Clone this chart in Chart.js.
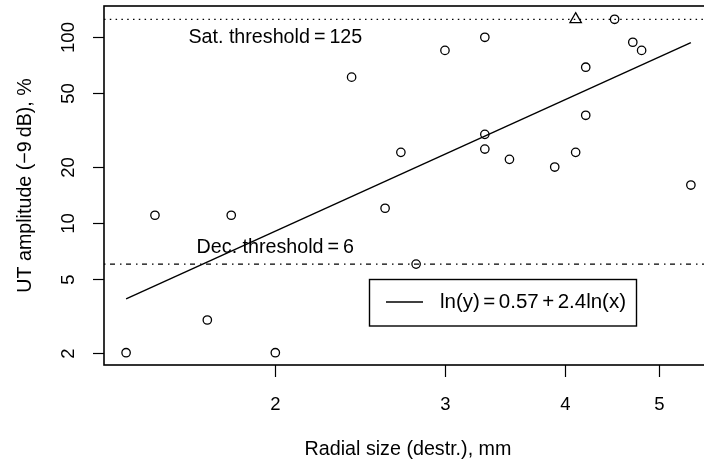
<!DOCTYPE html>
<html>
<head>
<meta charset="utf-8">
<script src="https://cdn.jsdelivr.net/npm/chart.js@4.4.1/dist/chart.umd.min.js"></script>
<style>
  html, body { margin: 0; padding: 0; background: #fff; }
  #wrap { width: 704px; height: 461px; position: relative; }
</style>
</head>
<body>
<div id="wrap"><canvas id="chart"></canvas></div>
<script>
// Data
const sizeMm = [1.4, 1.5, 1.7, 1.8, 2.0, 2.4, 2.6, 2.7, 2.8, 3.0, 3.3, 3.3, 3.3, 3.5, 3.9, 4.1, 4.2, 4.2, 4.5, 4.7, 4.8, 5.4];
const amplitudePct = [2, 11, 3, 11, 2, 61, 12, 24, 6, 85, 100, 30, 25, 22, 20, 24, 69, 38, 125, 94, 85, 16];
const satSize = [4.1];
const satAmplitude = [125];
const fitX = [1.4, 5.4];
const fitY = [3.9, 93.5];
const satThreshold = 125;
const decThreshold = 6;
const xTicks = [2, 3, 4, 5];
const yTicks = [2, 5, 10, 20, 50, 100];

const X_MIN = 1.328, X_MAX = 5.572;
const Y_MIN = 1.717, Y_MAX = 147.4;
const FONT = '"Liberation Sans", Arial, Helvetica, sans-serif';

function pairs(xs, ys) {
  return xs.map((x, i) => ({x: x, y: ys[i]}));
}

// Axes, ticks, labels and text annotations in R base-graphics style
const rStyle = {
  id: 'rStyle',
  beforeDraw(chart) {
    const ctx = chart.ctx;
    ctx.save();
    ctx.fillStyle = '#fff';
    ctx.fillRect(0, 0, chart.width, chart.height);
    ctx.restore();
  },
  afterDraw(chart) {
    const ctx = chart.ctx;
    const area = chart.chartArea;
    const xs = chart.scales.x;
    const ys = chart.scales.y;
    ctx.save();
    ctx.strokeStyle = '#000';
    ctx.fillStyle = '#000';

    // plot box (right side falls just outside the picture)
    ctx.lineWidth = 1.6;
    ctx.strokeRect(area.left, area.top, area.right - area.left + 3, area.bottom - area.top);

    // x ticks
    ctx.lineWidth = 1.2;
    ctx.font = '18.5px ' + FONT;
    ctx.textAlign = 'center';
    ctx.textBaseline = 'alphabetic';
    xTicks.forEach(v => {
      const px = Math.round(xs.getPixelForValue(v)) + 0.5;
      ctx.beginPath();
      ctx.moveTo(px, area.bottom);
      ctx.lineTo(px, area.bottom + 12);
      ctx.stroke();
      ctx.fillText(String(v), px, 409.5);
    });

    // y ticks (labels parallel to axis)
    yTicks.forEach(v => {
      const py = Math.round(ys.getPixelForValue(v)) + 0.5;
      ctx.beginPath();
      ctx.moveTo(area.left - 11, py);
      ctx.lineTo(area.left, py);
      ctx.stroke();
      ctx.save();
      ctx.translate(74, py);
      ctx.rotate(-Math.PI / 2);
      ctx.fillText(String(v), 0, 0);
      ctx.restore();
    });

    // axis titles
    ctx.font = '19.7px ' + FONT;
    ctx.fillText('Radial size (destr.), mm', (area.left + area.right) / 2 + 4, 454.5);
    ctx.save();
    ctx.translate(31, (area.top + area.bottom) / 2);
    ctx.rotate(-Math.PI / 2);
    ctx.fillText('UT amplitude (\u22129\u2009dB), %', 0, 0);
    ctx.restore();

    // threshold labels (plotmath-like spacing around "=")
    const drawEq = (parts, cx, baseY, gap) => {
      const widths = parts.map(p => ctx.measureText(p).width);
      const total = widths.reduce((a, b) => a + b, 0) + gap * (parts.length - 1);
      let x = cx - total / 2;
      ctx.textAlign = 'left';
      parts.forEach((p, i) => {
        ctx.fillText(p, x, baseY);
        x += widths[i] + gap;
      });
      ctx.textAlign = 'center';
    };
    const x2 = xs.getPixelForValue(2);
    drawEq(['Sat. threshold', '=', String(satThreshold)], x2, 43.3, 4);
    drawEq(['Dec. threshold', '=', String(decThreshold)], x2, 252.7, 4);

    // legend
    ctx.lineWidth = 1.4;
    ctx.strokeRect(369.5, 279.5, 267, 46.5);
    ctx.beginPath();
    ctx.moveTo(386, 302);
    ctx.lineTo(423, 302);
    ctx.stroke();
    ctx.font = '20.5px ' + FONT;
    const parts = ['ln(y)', '=', '0.57', '+', '2.4ln(x)'];
    const widths = parts.map(p => ctx.measureText(p).width);
    const gap = Math.max(2, (186 - widths.reduce((a, b) => a + b, 0)) / (parts.length - 1));
    let lx = 440;
    ctx.textAlign = 'left';
    parts.forEach((p, i) => {
      ctx.fillText(p, lx, 307.7);
      lx += widths[i] + gap;
    });

    ctx.restore();
  }
};

new Chart(document.getElementById('chart'), {
  type: 'scatter',
  data: {
    datasets: [
      {
        label: 'observed',
        data: pairs(sizeMm, amplitudePct),
        pointStyle: 'circle',
        pointRadius: 4.2,
        pointBorderWidth: 1.3,
        pointBorderColor: '#000',
        pointBackgroundColor: 'rgba(0,0,0,0)',
        showLine: false
      },
      {
        label: 'saturated',
        data: pairs(satSize, satAmplitude),
        pointStyle: 'triangle',
        pointRadius: 6.6,
        pointBorderWidth: 1.3,
        pointBorderColor: '#000',
        pointBackgroundColor: 'rgba(0,0,0,0)',
        showLine: false
      },
      {
        label: 'fit',
        data: pairs(fitX, fitY),
        showLine: true,
        borderColor: '#000',
        borderWidth: 1.4,
        pointRadius: 0
      },
      {
        label: 'sat threshold',
        data: pairs([X_MIN, X_MAX], [satThreshold, satThreshold]),
        showLine: true,
        borderColor: '#000',
        borderWidth: 1.3,
        borderDash: [1.5, 4.3],
        pointRadius: 0
      },
      {
        label: 'dec threshold',
        data: pairs([X_MIN, X_MAX], [decThreshold, decThreshold]),
        showLine: true,
        borderColor: '#000',
        borderWidth: 1.3,
        borderDash: [1.5, 4.5, 5, 5],
        pointRadius: 0
      }
    ]
  },
  options: {
    responsive: true,
    maintainAspectRatio: false,
    animation: false,
    events: [],
    layout: { autoPadding: false, padding: { left: 104, top: 6, right: 0, bottom: 96 } },
    plugins: {
      legend: { display: false },
      tooltip: { enabled: false }
    },
    scales: {
      x: { type: 'logarithmic', bounds: 'data', min: X_MIN, max: X_MAX, display: false },
      y: { type: 'logarithmic', bounds: 'data', min: Y_MIN, max: Y_MAX, display: false }
    }
  },
  plugins: [rStyle]
});
</script>
</body>
</html>
